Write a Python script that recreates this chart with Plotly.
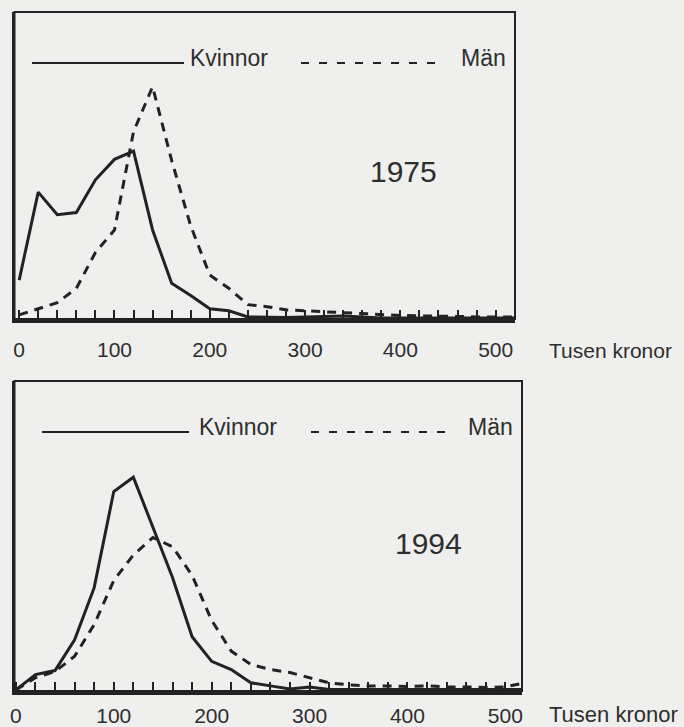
import plotly.graph_objects as go

# ---------------- data (percent of each group per 20 000 kr income band) ----------------
income = [0, 20, 40, 60, 80, 100, 120, 140, 160, 180, 200, 220, 240, 260,
          280, 300, 320, 340, 360, 380, 400, 420, 440, 460, 480, 500, 520]

kvinnor_1975 = [3.8, 12.4, 10.2, 10.4, 13.6, 15.6, 16.4, 8.7, 3.5, 2.3, 1.0, 0.8, 0.2, 0.15,
                0.15, 0.2, 0.25, 0.3, 0.2, 0.1, 0.1, 0.1, 0.1, 0.1, 0.1, 0.1, 0.1]
man_1975 = [0.4, 1.0, 1.6, 3.0, 6.5, 8.7, 18.3, 22.7, 15.5, 9.1, 4.3, 3.0, 1.4, 1.2,
            0.9, 0.8, 0.7, 0.6, 0.5, 0.4, 0.35, 0.3, 0.3, 0.25, 0.2, 0.2, 0.2]

kvinnor_1994 = [0.1, 1.6, 2.0, 5.0, 10.1, 19.5, 20.9, 16.0, 11.1, 5.3, 2.9, 2.1, 0.8, 0.5,
                0.2, 0.4, 0.15, 0.15, 0.15, 0.15, 0.15, 0.15, 0.15, 0.15, 0.15, 0.15, 0.15]
man_1994 = [0.1, 1.3, 1.9, 3.4, 6.5, 10.8, 13.3, 15.0, 14.1, 11.3, 6.9, 3.9, 2.6, 2.1,
            1.8, 1.3, 0.8, 0.6, 0.5, 0.5, 0.45, 0.5, 0.4, 0.4, 0.35, 0.4, 0.8]

tick_values = [0, 100, 200, 300, 400, 500]
tick_labels = ["0", "100", "200", "300", "400", "500"]
minor_ticks = list(range(0, 521, 20))
panel_years = ["1975", "1994"]
legend_names = ["Kvinnor", "Män"]
unit_label = "Tusen kronor"

# ---------------- styling ----------------
W, H = 684, 727
BG = "#efefed"
INK = "#222222"
TXT = "#2e2e2e"
FONT = "Liberation Sans, Arial, sans-serif"


def px_x(p):
    return p / W


def px_y(p):
    return 1 - p / H


fig = go.Figure()

panels = [
    dict(k=kvinnor_1975, m=man_1975, xd=(14.5, 515), yd=(12, 319),
         xr=[-4.9, 520.3], yr=[0, 30], year=panel_years[0],
         year_pos=(403, 172), leg_y=63, leg=(32, 184, 188, 301, 440, 459),
         lab_font=21, standoff=9, unit_font=21, unit_y=350),
    dict(k=kvinnor_1994, m=man_1994, xd=(14.5, 522), yd=(381, 691),
         xr=[-1.4, 517], yr=[0, 30.3], year=panel_years[1],
         year_pos=(429, 543), leg_y=432, leg=(42, 189, 197, 311, 450, 466),
         lab_font=21, standoff=3, unit_font=22, unit_y=714),
]

shapes = []
annotations = []

for i, p in enumerate(panels, start=1):
    xa = "x" if i == 1 else f"x{i}"
    ya = "y" if i == 1 else f"y{i}"
    fig.add_trace(go.Scatter(x=income, y=p["k"], mode="lines", xaxis=xa, yaxis=ya,
                             line=dict(color=INK, width=3), showlegend=False,
                             name=legend_names[0]))
    fig.add_trace(go.Scatter(x=income, y=p["m"], mode="lines", xaxis=xa, yaxis=ya,
                             line=dict(color=INK, width=3, dash="9px,7px"),
                             showlegend=False, name=legend_names[1]))

    xkey = "xaxis" if i == 1 else f"xaxis{i}"
    ykey = "yaxis" if i == 1 else f"yaxis{i}"
    fig.update_layout(**{
        xkey: dict(domain=[px_x(p["xd"][0]), px_x(p["xd"][1])], range=p["xr"],
                   anchor=ya, showgrid=False, zeroline=False, automargin=False,
                   showline=True, linewidth=4, linecolor=INK,
                   tickmode="array", tickvals=minor_ticks,
                   ticktext=[tick_labels[tick_values.index(v)] if v in tick_values else ""
                             for v in minor_ticks],
                   ticks="inside", ticklen=9, tickwidth=2, tickcolor=INK,
                   ticklabelstandoff=p["standoff"],
                   tickfont=dict(family=FONT, size=p["lab_font"], color=TXT)),
        ykey: dict(domain=[px_y(p["yd"][1]), px_y(p["yd"][0])], range=p["yr"],
                   anchor=xa, showgrid=False, zeroline=False, automargin=False,
                   showline=True, linewidth=3, linecolor=INK,
                   showticklabels=False, ticks=""),
    })

    # frame
    shapes.append(dict(type="rect", xref=f"{xa} domain", yref=f"{ya} domain",
                       x0=0, x1=1, y0=0, y1=1, line=dict(color=INK, width=2),
                       layer="above"))

    # hand-made legend inside the panel
    l = p["leg"]
    shapes.append(dict(type="line", xref="paper", yref="paper",
                       x0=px_x(l[0]), x1=px_x(l[1]), y0=px_y(p["leg_y"]), y1=px_y(p["leg_y"]),
                       line=dict(color=INK, width=2)))
    shapes.append(dict(type="line", xref="paper", yref="paper",
                       x0=px_x(l[3]), x1=px_x(l[4]), y0=px_y(p["leg_y"]), y1=px_y(p["leg_y"]),
                       line=dict(color=INK, width=2, dash="8px,10px")))
    annotations.append(dict(text=legend_names[0], xref="paper", yref="paper",
                            x=px_x(l[2]), y=px_y(p["leg_y"] - 5), xanchor="left",
                            yanchor="middle", showarrow=False,
                            font=dict(family=FONT, size=23, color=TXT)))
    annotations.append(dict(text=legend_names[1], xref="paper", yref="paper",
                            x=px_x(l[5]), y=px_y(p["leg_y"] - 5), xanchor="left",
                            yanchor="middle", showarrow=False,
                            font=dict(family=FONT, size=23, color=TXT)))

    # year label
    annotations.append(dict(text=p["year"], xref="paper", yref="paper",
                            x=px_x(p["year_pos"][0]), y=px_y(p["year_pos"][1]),
                            xanchor="center", yanchor="middle", showarrow=False,
                            font=dict(family=FONT, size=30, color=TXT)))

    # unit label to the right of the axis
    annotations.append(dict(text=unit_label, xref="paper", yref="paper",
                            x=px_x(547), y=px_y(p["unit_y"]), xanchor="left",
                            yanchor="middle", showarrow=False,
                            font=dict(family=FONT, size=p["unit_font"], color=TXT)))

fig.update_layout(width=W, height=H,
                  margin=dict(l=0, r=0, t=0, b=0, pad=0, autoexpand=False),
                  paper_bgcolor=BG, plot_bgcolor=BG,
                  shapes=shapes, annotations=annotations, showlegend=False)

fig.write_html(
    "out.html",
    config={"displayModeBar": False},
    post_script=("document.body.style.margin='0';"
                 "document.body.style.padding='0';"
                 "document.body.style.overflow='hidden';"
                 "document.body.style.background='#efefed';"),
)
